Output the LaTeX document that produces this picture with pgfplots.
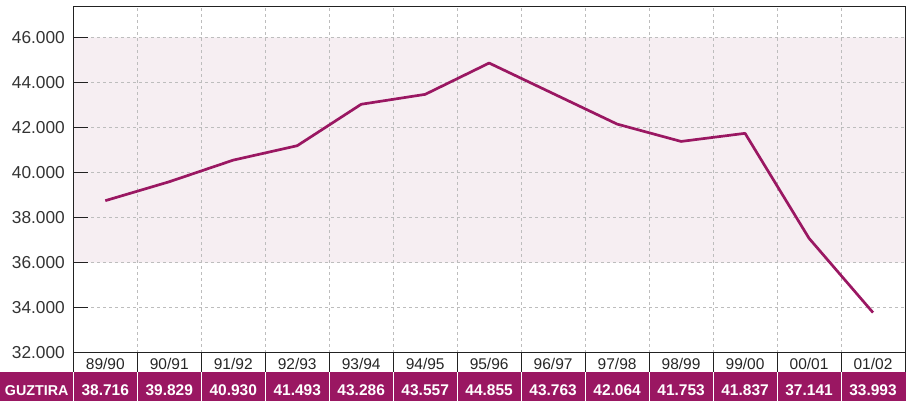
\documentclass[border=0pt]{standalone}
\usepackage{pgfplots}
\pgfplotsset{compat=1.18}
\usepackage{fontspec}
\setmainfont{Liberation Sans}
\definecolor{plum}{HTML}{9A1762}
\definecolor{band}{HTML}{F6EEF2}
\definecolor{gridc}{HTML}{BDBDBD}
\definecolor{axc}{HTML}{222222}
\begin{document}
\begin{tikzpicture}
\begin{axis}[
  name=ax,
  set layers,
  scale only axis,
  width=831.7bp, height=346.4bp,
  xmin=-0.5, xmax=12.5,
  ymin=32000, ymax=47380,
  scaled y ticks=false,
  xtick={0,...,12},
  xticklabels={89/90,90/91,91/92,92/93,93/94,94/95,95/96,96/97,97/98,98/99,99/00,00/01,01/02},
  minor xtick={0.5,1.5,...,11.5},
  xminorgrids,
  minor tick length=0pt,
  x tick style={draw=none},
  minor grid style={gridc, line width=0.8bp, dash pattern=on 3bp off 3bp},
  ytick={32000,34000,...,46000},
  yticklabels={32.000,34.000,36.000,38.000,40.000,42.000,44.000,46.000},
  ymajorgrids,
  major grid style={gridc, line width=0.8bp, dash pattern=on 3bp off 3bp},
  ytick pos=left,
  tick align=inside,
  major tick length=15bp,
  y tick style={axc, line width=1bp},
  axis line style={axc, line width=1bp},
  yticklabel style={inner sep=0pt, anchor=east, xshift=-8.3bp, text=black!80,
    font=\fontsize{17.3bp}{20bp}\selectfont},
  xticklabel style={inner sep=0pt, anchor=base, yshift=-16.6bp, text=black!85,
    font=\fontsize{15.5bp}{18bp}\selectfont},
  /pgf/number format/assume math mode=true,
  clip=false,
]
\addplot[on layer=axis background, fill=band, draw=none]
  coordinates {(-0.5,36000) (12.5,36000) (12.5,46000) (-0.5,46000) (-0.5,36000)};
\addplot[plum, line width=2.7bp, line join=round] coordinates {
  (0,38750) (1,39590) (2,40550) (3,41190) (4,43030) (5,43470) (6,44860)
  (7,43505) (8,42150) (9,41380) (10,41740) (11,37080) (12,33780)};
\end{axis}
% table below the axis
\fill[plum] ([shift={(-73.3bp,-19.6bp)}]ax.south west) rectangle ([shift={(1bp,-48.3bp)}]ax.south east);
\foreach \k in {0,...,13} {
  \draw[axc, line width=1bp] ([xshift={\k*63.977bp}]ax.south west) -- ++(0,-19.6bp);
}
\foreach \k in {0,...,12} {
  \draw[white, line width=0.9bp] ([shift={(\k*63.977bp,-19.6bp)}]ax.south west) -- ++(0,-28.7bp);
}
\node[anchor=base, inner sep=0pt, text=white, font=\bfseries\fontsize{14.3bp}{17bp}\selectfont]
  at ([shift={(-36.6bp,-42.3bp)}]ax.south west) {GUZTIRA};
\foreach \v [count=\i from 0] in {38.716,39.829,40.930,41.493,43.286,43.557,44.855,43.763,42.064,41.753,41.837,37.141,33.993} {
  \node[anchor=base, inner sep=0pt, text=white, font=\bfseries\fontsize{15.5bp}{18bp}\selectfont]
    at ([shift={({(\i+0.5)*63.977bp},-42.3bp)}]ax.south west) {\v};
}
\path[use as bounding box] ([shift={(-73.3bp,-48.3bp)}]ax.south west) rectangle ([shift={(1bp,6.3bp)}]ax.north east);
\end{tikzpicture}
\end{document}
